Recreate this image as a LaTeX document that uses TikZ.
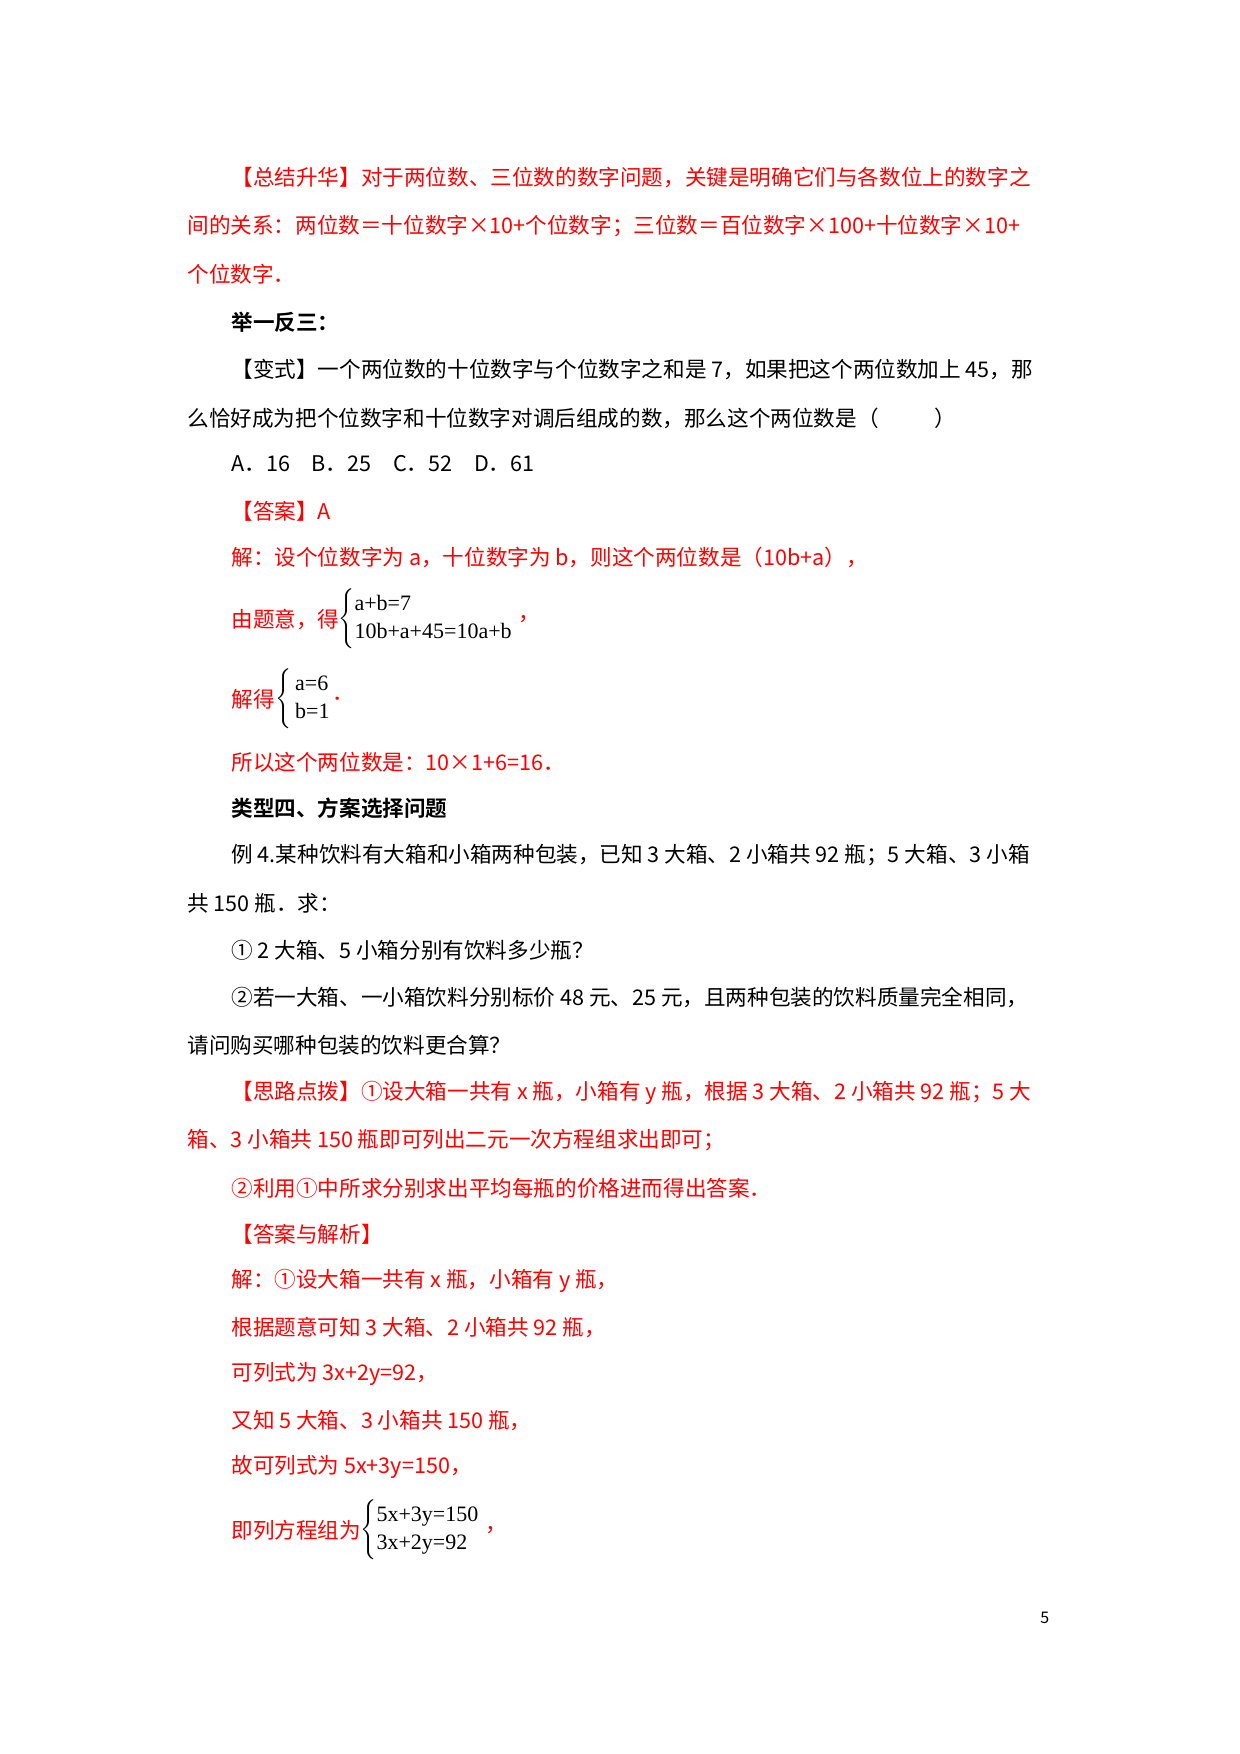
\documentclass[tikz,border=0pt]{standalone}
\usepackage{fontspec}
\setmainfont{Noto Sans CJK SC}[BoldFont={Noto Sans CJK SC Bold}]
\newfontfamily\eqf{Liberation Serif}
\definecolor{rd}{RGB}{255,0,0}
\begin{document}
\begin{tikzpicture}[x=0.5pt,y=-0.5pt,
  t/.style={anchor=west,inner sep=0pt,font=\fontsize{10.8}{13}\selectfont},
  r/.style={t,text=rd},
  eq/.style={anchor=west,inner sep=0pt,font=\eqf\fontsize{11}{13}\selectfont}]
\useasboundingbox[fill=white] (0,0) rectangle (1240,1754);
\node[r] (l1) at (231,178) {【总结升华】对于两位数、三位数的数字问题，关键是明确它们与各数位上的数字之};
\node[r] (l2) at (187,226) {间的关系：两位数＝十位数字×10+个位数字；三位数＝百位数字×100+十位数字×10+};
\node[r] (l3) at (187,274) {个位数字．};
\node[t,font=\fontsize{10.8}{13}\selectfont\bfseries] (l4) at (231,322) {举一反三：};
\node[t] (l5) at (231,369) {【变式】一个两位数的十位数字与个位数字之和是 7，如果把这个两位数加上 45，那};
\node[t] (l6) at (187,418) {么恰好成为把个位数字和十位数字对调后组成的数，那么这个两位数是（\hspace{2.6em}）};
\node[t] (l7) at (231,464) {A．16\hspace{1em}B．25\hspace{1em}C．52\hspace{1em}D．61};
\node[r] (l8) at (231,511) {【答案】A};
\node[r] (l9) at (231,557) {解：设个位数字为 a，十位数字为 b，则这个两位数是（10b+a），};
\node[r] (l10) at (231,619) {由题意，得};
\node[eq] (e1) at (338,619) {$\left\{\begin{array}{@{}l@{}}\mbox{a+b=7}\\[1pt]\mbox{10b+a+45=10a+b}\end{array}\right.$};
\node[r,anchor=west] at (e1.east) {\,，};
\node[r] (l11) at (231,699) {解得};
\node[eq] (e2) at (275,699) {$\left\{\begin{array}{@{}l@{}}\mbox{\,a=6}\\[1pt]\mbox{\,b=1}\end{array}\right.$};
\node[r,anchor=west] at (e2.east) {．};
\node[r] (l12) at (231,762) {所以这个两位数是：10×1+6=16．};
\node[t,font=\fontsize{10.8}{13}\selectfont\bfseries] (l13) at (231,808) {类型四、方案选择问题};
\node[t] (l14) at (231,855) {例 4.某种饮料有大箱和小箱两种包装，已知 3 大箱、2 小箱共 92 瓶；5 大箱、3 小箱};
\node[t] (l15) at (187,903) {共 150 瓶．求：};
\node[t] (l16) at (231,950) {① 2 大箱、5 小箱分别有饮料多少瓶？};
\node[t] (l17) at (231,997) {②若一大箱、一小箱饮料分别标价 48 元、25 元，且两种包装的饮料质量完全相同，};
\node[t] (l18) at (187,1045) {请问购买哪种包装的饮料更合算？};
\node[r] (l19) at (231,1093) {【思路点拨】①设大箱一共有 x 瓶，小箱有 y 瓶，根据 3 大箱、2 小箱共 92 瓶；5 大};
\node[r] (l20) at (187,1140) {箱、3 小箱共 150 瓶即可列出二元一次方程组求出即可；};
\node[r] (l21) at (231,1188) {②利用①中所求分别求出平均每瓶的价格进而得出答案．};
\node[r] (l22) at (231,1234) {【答案与解析】};
\node[r] (l23) at (231,1281) {解：①设大箱一共有 x 瓶，小箱有 y 瓶，};
\node[r] (l24) at (231,1327) {根据题意可知 3 大箱、2 小箱共 92 瓶，};
\node[r] (l25) at (231,1374) {可列式为 3x+2y=92，};
\node[r] (l26) at (231,1421) {又知 5 大箱、3 小箱共 150 瓶，};
\node[r] (l27) at (231,1467) {故可列式为 5x+3y=150，};
\node[r] (l28) at (231,1530) {即列方程组为};
\node[eq] (e3) at (360,1530) {$\left\{\begin{array}{@{}l@{}}\mbox{5x+3y=150}\\[1pt]\mbox{3x+2y=92}\end{array}\right.$};
\node[r,anchor=west] at (e3.east) {\,，};
\node[t,font=\fontsize{8}{10}\selectfont] (pg) at (1040,1618) {5};
\end{tikzpicture}
\end{document}
